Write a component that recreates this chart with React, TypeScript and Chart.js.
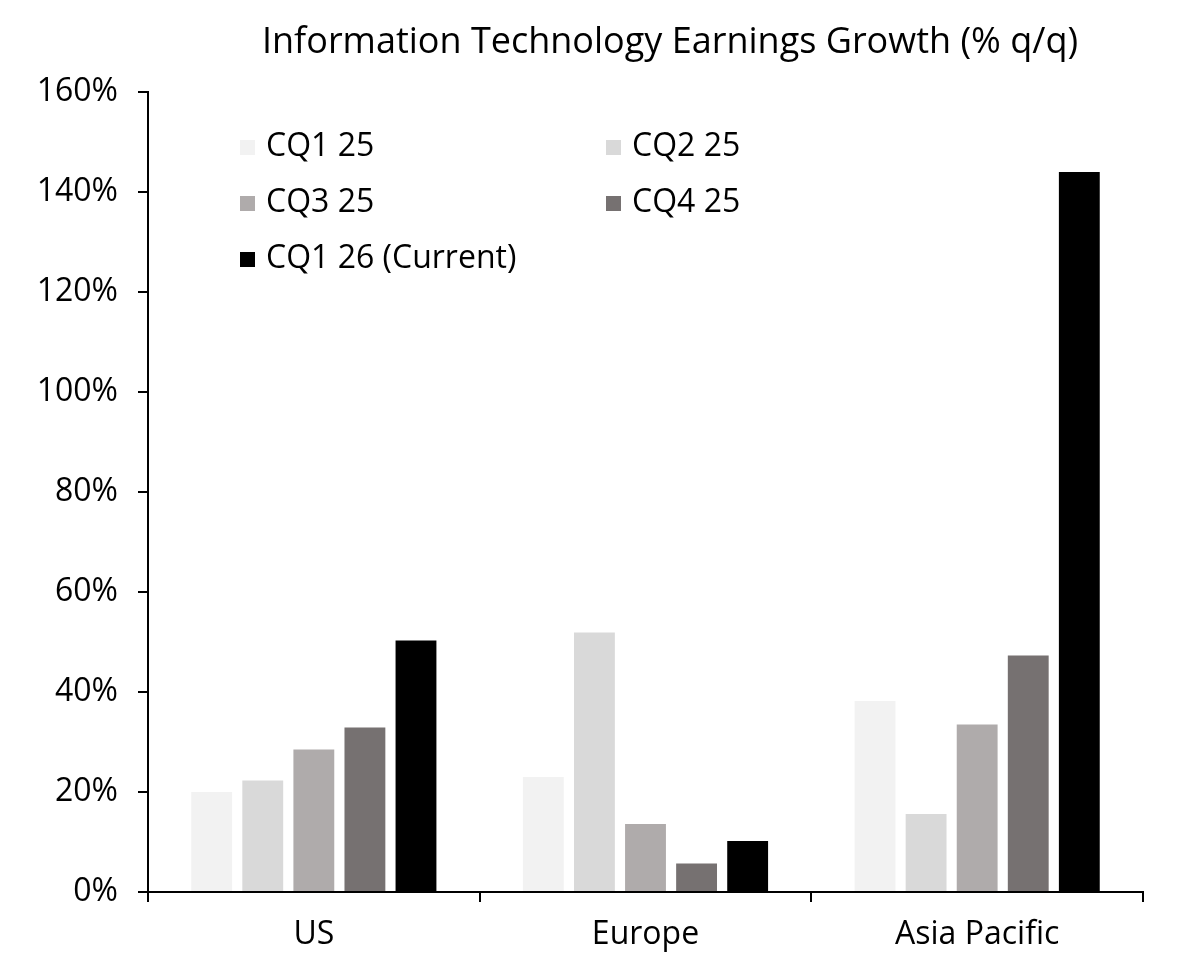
import React, { useEffect, useRef } from "react";
import { Chart, registerables } from "chart.js";

Chart.register(...registerables);

const TITLE = "Information Technology Earnings Growth (% q/q)";
const categories = ["US", "Europe", "Asia Pacific"];
const seriesNames = ["CQ1 25", "CQ2 25", "CQ3 25", "CQ4 25", "CQ1 26 (Current)"];
const seriesColors = ["#f2f2f2", "#d9d9d9", "#afabab", "#767171", "#000000"];
const cq1_25 = [20.0, 23.0, 38.2];
const cq2_25 = [22.3, 51.9, 15.6];
const cq3_25 = [28.5, 13.6, 33.5];
const cq4_25 = [32.9, 5.7, 47.3];
const cq1_26 = [50.3, 10.2, 144.0];
const seriesValues = [cq1_25, cq2_25, cq3_25, cq4_25, cq1_26];
const yTicks = [0, 20, 40, 60, 80, 100, 120, 140, 160];

const FONT = "'Open Sans', Lato, sans-serif";

const titleLegendPlugin = {
  id: "titleLegend",
  afterDraw(chart: any) {
    const ctx = chart.ctx;
    ctx.save();
    ctx.fillStyle = "#000";
    ctx.font = `36px ${FONT}`;
    ctx.textAlign = "center";
    ctx.textBaseline = "middle";
    ctx.fillText(TITLE, 670, 43);
    // legend in two columns
    const colX = [240, 606];
    const rowY = [147, 203, 259];
    ctx.textAlign = "left";
    ctx.font = `32px ${FONT}`;
    chart.data.datasets.forEach((ds: any, i: number) => {
      const x = colX[i % 2];
      const y = rowY[Math.floor(i / 2)];
      ctx.fillStyle = ds.backgroundColor;
      ctx.fillRect(x, y - 7, 15, 15);
      ctx.fillStyle = "#000";
      ctx.fillText(ds.label, x + 26, y);
    });
    ctx.restore();
  },
};

export default function App() {
  const ref = useRef<HTMLCanvasElement | null>(null);
  useEffect(() => {
    document.body.style.margin = "0";
    const chart = new Chart(ref.current as HTMLCanvasElement, {
      type: "bar",
      data: {
        labels: categories,
        datasets: seriesNames.map((n, i) => ({
          label: n,
          data: seriesValues[i],
          backgroundColor: seriesColors[i],
          borderWidth: 0,
          categoryPercentage: 0.77,
          barPercentage: 0.8,
        })),
      },
      options: {
        animation: false,
        responsive: false,
        layout: { padding: { top: 92, right: 52, left: 0, bottom: 0 } },
        plugins: {
          legend: { display: false },
          title: { display: false },
          tooltip: { enabled: false },
        },
        scales: {
          x: {
            grid: {
              offset: true,
              drawOnChartArea: false,
              drawTicks: true,
              tickLength: 10,
              color: "#000",
              lineWidth: 2,
            },
            border: { display: true, color: "#000", width: 2 },
            ticks: {
              color: "#000",
              font: { family: FONT, size: 32 },
              padding: 14,
            },
            afterFit(scale: any) {
              scale.height = 69;
            },
          },
          y: {
            min: 0,
            max: 160,
            afterBuildTicks(scale: any) {
              scale.ticks = yTicks.map((v) => ({ value: v }));
            },
            grid: {
              drawOnChartArea: false,
              drawTicks: true,
              tickLength: 10,
              color: "#000",
              lineWidth: 2,
            },
            border: { display: true, color: "#000", width: 2 },
            ticks: {
              color: "#000",
              font: { family: FONT, size: 32 },
              padding: 20,
              callback: (v: any) => `${v}%`,
            },
            afterFit(scale: any) {
              scale.width = 148;
            },
          },
        },
      },
      plugins: [titleLegendPlugin],
    });
    return () => chart.destroy();
  }, []);
  return (
    <div style={{ width: 1195, height: 961, background: "#fff" }}>
      <canvas ref={ref} width={1195} height={961} style={{ display: "block" }} />
    </div>
  );
}
